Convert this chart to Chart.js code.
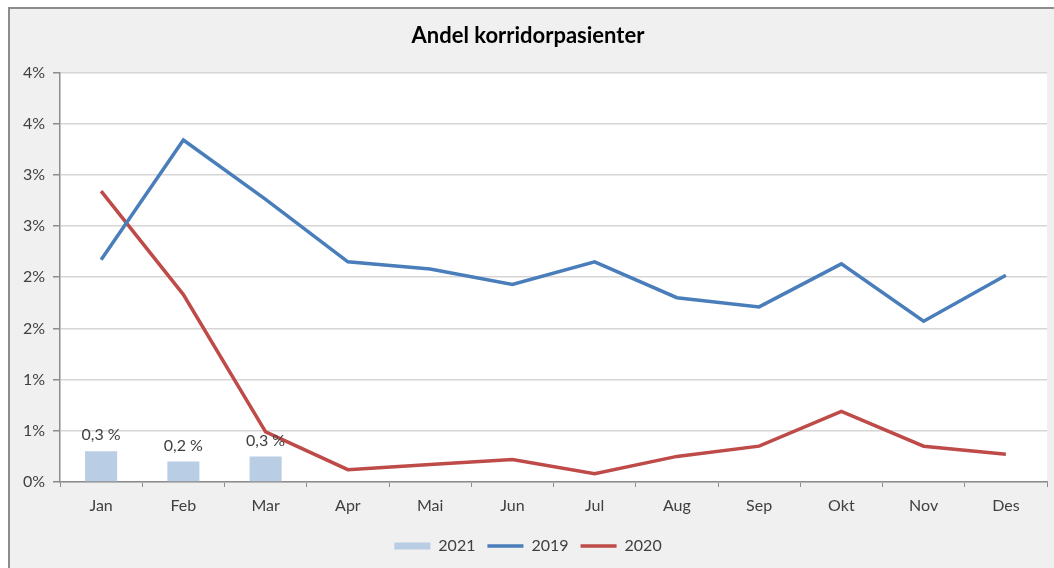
<!DOCTYPE html>
<html>
<head>
<meta charset="utf-8">
<script src="https://cdn.jsdelivr.net/npm/chart.js@4.4.1/dist/chart.umd.min.js"></script>
<style>
  body { margin: 0; background: #fff; overflow: hidden; }
  #frame {
    position: absolute; left: 8px; top: 7px; width: 1100px; height: 620px;
    border-left: 2px solid #8c8c8c; border-top: 2px solid #8c8c8c;
    background: #f0f0f0;
  }
  #chart { position: absolute; left: 9px; top: 8px; }
</style>
</head>
<body>
<div id="frame"></div>
<canvas id="chart" width="1054" height="560"></canvas>
<script>
const months = ['Jan', 'Feb', 'Mar', 'Apr', 'Mai', 'Jun', 'Jul', 'Aug', 'Sep', 'Okt', 'Nov', 'Des'];
const values2021 = [0.30, 0.20, 0.25];
const values2019 = [2.17, 3.34, 2.76, 2.15, 2.08, 1.93, 2.15, 1.80, 1.71, 2.13, 1.57, 2.02];
const values2020 = [2.84, 1.83, 0.49, 0.12, 0.17, 0.22, 0.08, 0.25, 0.35, 0.69, 0.35, 0.27];
const yTickLabels = ['0%', '1%', '1%', '2%', '2%', '3%', '3%', '4%', '4%'];

const FONT = 'Lato, "Open Sans", sans-serif';

// white plot area like the Excel chart
const plotBackground = {
  id: 'plotBackground',
  beforeDraw(chart) {
    const { ctx, chartArea: a } = chart;
    ctx.save();
    ctx.fillStyle = '#ffffff';
    ctx.fillRect(a.left, a.top, a.right - a.left, a.bottom - a.top);
    ctx.restore();
  }
};

// "0,3 %" labels above the 2021 bars
const barLabels = {
  id: 'barLabels',
  afterDatasetsDraw(chart) {
    const { ctx } = chart;
    const meta = chart.getDatasetMeta(0);
    ctx.save();
    ctx.font = '16px ' + FONT;
    ctx.fillStyle = '#404040';
    ctx.textAlign = 'center';
    ctx.textBaseline = 'bottom';
    meta.data.forEach((bar, i) => {
      const txt = values2021[i].toFixed(1).replace('.', ',') + ' %';
      ctx.fillText(txt, bar.x, bar.y - 8);
    });
    ctx.restore();
  }
};

new Chart(document.getElementById('chart'), {
  data: {
    labels: months,
    datasets: [
      {
        type: 'bar',
        label: '2021',
        data: values2021,
        backgroundColor: '#b9cde5',
        borderWidth: 0,
        barPercentage: 0.39,
        categoryPercentage: 1,
        pointStyle: 'rect'
      },
      {
        type: 'line',
        label: '2019',
        data: values2019,
        borderColor: '#4a7ebb',
        backgroundColor: '#4a7ebb',
        borderWidth: 3.5,
        tension: 0,
        pointRadius: 0,
        pointStyle: 'line'
      },
      {
        type: 'line',
        label: '2020',
        data: values2020,
        borderColor: '#be4b48',
        backgroundColor: '#be4b48',
        borderWidth: 3.5,
        tension: 0,
        pointRadius: 0,
        pointStyle: 'line'
      }
    ]
  },
  options: {
    responsive: false,
    animation: false,
    layout: { padding: { left: 0, right: 16, top: 0, bottom: 4 } },
    plugins: {
      title: {
        display: true,
        text: 'Andel korridorpasienter',
        color: '#000',
        font: { family: FONT, size: 22, weight: 'bold' },
        padding: { top: 15, bottom: 23 }
      },
      legend: {
        position: 'bottom',
        labels: {
          usePointStyle: true,
          pointStyleWidth: 36,
          boxHeight: 7,
          padding: 12,
          color: '#404040',
          font: { family: FONT, size: 16 }
        }
      },
      tooltip: { enabled: false }
    },
    scales: {
      x: {
        offset: true,
        afterFit: s => { s.height = 44; },
        border: { color: '#8c8c8c', width: 1.5 },
        grid: {
          display: true,
          offset: true,
          drawOnChartArea: false,
          drawTicks: true,
          tickLength: 5,
          tickColor: '#8c8c8c'
        },
        ticks: {
          color: '#404040',
          padding: 9,
          font: { family: FONT, size: 16 }
        }
      },
      y: {
        min: 0,
        max: 4,
        afterFit: s => { s.width = 51; },
        border: { color: '#8c8c8c', width: 1.5 },
        grid: {
          color: '#d6d6d6',
          lineWidth: 1.5,
          tickLength: 7,
          tickColor: '#8c8c8c'
        },
        ticks: {
          stepSize: 0.5,
          color: '#404040',
          padding: 8,
          font: { family: FONT, size: 16 },
          callback: (value, index) => yTickLabels[index]
        }
      }
    }
  },
  plugins: [plotBackground, barLabels]
});
</script>
</body>
</html>
